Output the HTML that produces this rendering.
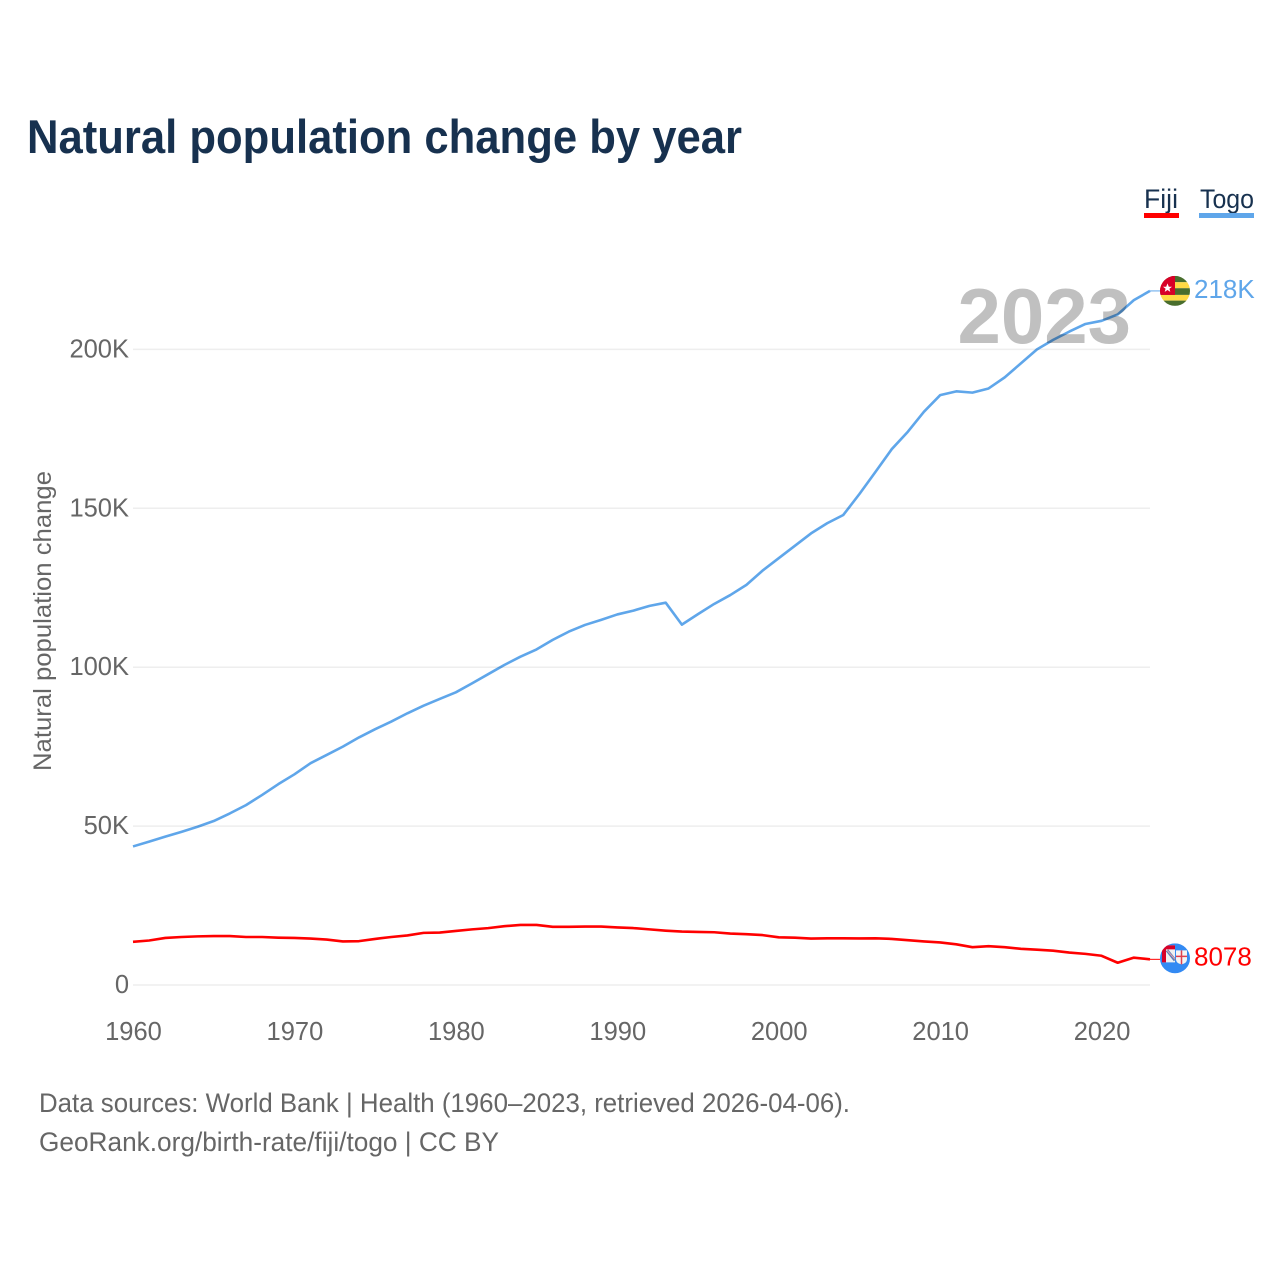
<!DOCTYPE html>
<html lang="en">
<head>
<meta charset="utf-8">
<title>Natural population change by year</title>
<style>
html,body{margin:0;padding:0;background:#fff;}
svg{display:block;font-family:"Liberation Sans",sans-serif;}
</style>
</head>
<body>
<svg id="chart" width="1280" height="1280" viewBox="0 0 1280 1280" xmlns="http://www.w3.org/2000/svg">
  <rect width="1280" height="1280" fill="#ffffff"/>
  <text x="27" y="153" font-size="47" font-weight="700" fill="#17314f" textLength="715" lengthAdjust="spacingAndGlyphs">Natural population change by year</text>

  <g>
    <g>
      <text x="1144" y="208" font-size="27" fill="#17314f" textLength="34" lengthAdjust="spacingAndGlyphs">Fiji</text>
      <rect x="1144" y="213" width="35" height="5" fill="#ff0000"/>
    </g>
    <g>
      <text x="1200" y="208" font-size="27" fill="#17314f" textLength="54" lengthAdjust="spacingAndGlyphs">Togo</text>
      <rect x="1199" y="213" width="55" height="5" fill="#5fa6ea"/>
    </g>
  </g>

  <g id="grid"></g>
  <g id="yTicks"></g>
  <g id="xTicks"></g>
  <text transform="translate(51 621) rotate(-90)" text-anchor="middle" font-size="25" fill="#666666" textLength="300" lengthAdjust="spacingAndGlyphs">Natural population change</text>
  <text x="1131" y="343" text-anchor="end" font-size="78" font-weight="700" fill="#c0c0c0">2023</text>
  <g id="series" style="mix-blend-mode:multiply"></g>

  <defs>
    <clipPath id="flagClip"><circle cx="0" cy="0" r="15"/></clipPath>
  </defs>

  <g id="flagTogo">
    <g clip-path="url(#flagClip)">
      <rect x="-15" y="-15" width="30" height="6.3" fill="#496e2d"/>
      <rect x="-15" y="-8.7" width="30" height="6" fill="#ffda44"/>
      <rect x="-15" y="-2.7" width="30" height="6.7" fill="#496e2d"/>
      <rect x="-15" y="4" width="30" height="5.7" fill="#ffda44"/>
      <rect x="-15" y="9.7" width="30" height="5.3" fill="#496e2d"/>
      <rect x="-15" y="-15" width="15" height="19" fill="#d80027"/>
      <polygon points="-7.5,-7.5 -6.2,-4.2 -3,-4.2 -5.6,-2.2 -4.7,1 -7.5,-0.9 -10.3,1 -9.4,-2.2 -12,-4.2 -8.8,-4.2" fill="#ffffff"/>
    </g>
  </g>

  <g id="flagFiji">
    <g clip-path="url(#flagClip)">
      <rect x="-15" y="-15" width="30" height="30" fill="#338af3"/>
      <path d="M-13,-13 H0 V4 H-13 Z" fill="#f0f0f0"/>
      <path d="M-13,-13 H0 V-9 H-9 V4 H-13 Z" fill="#d80027"/>
      <path d="M-8,-8 L0,2" stroke="#5a7fb8" stroke-width="3" fill="none"/>
      <path d="M-8,-8 L0,1" stroke="#e8a0a8" stroke-width="1" fill="none"/>
      <path d="M1,-8 H12 V1 Q12,5 6.5,6 Q1,5 1,1 Z" fill="#f4f4f4"/>
      <path d="M6.5,-8 V6 M1,-2 H12" stroke="#e0404f" stroke-width="1.5" fill="none"/>
    </g>
  </g>

  <text id="labelTogo" x="1194" font-size="26" fill="#5fa6ea">218K</text>
  <text id="labelFiji" x="1194" font-size="26" fill="#ff0000">8078</text>

  <g>
    <text x="39" y="1112" font-size="27" fill="#666666" textLength="811" lengthAdjust="spacingAndGlyphs">Data sources: World Bank | Health (1960–2023, retrieved 2026-04-06).</text>
    <text x="39" y="1151" font-size="27" fill="#666666" textLength="460" lengthAdjust="spacingAndGlyphs">GeoRank.org/birth-rate/fiji/togo | CC BY</text>
  </g>
</svg>

<script>
const startYear = 1960;
const xTickYears = [1960, 1970, 1980, 1990, 2000, 2010, 2020];
const yTickValues = [0, 50, 100, 150, 200];
const yTickLabels = ["0", "50K", "100K", "150K", "200K"];
const togoValues = [43.6, 45.1, 46.7, 48.2, 49.8, 51.6, 54.0, 56.6, 59.8, 63.2,
  66.3, 69.8, 72.4, 75.0, 77.9, 80.5, 82.9, 85.5, 87.9, 90.0,
  92.1, 94.9, 97.8, 100.7, 103.3, 105.6, 108.6, 111.2, 113.3, 114.9,
  116.6, 117.8, 119.3, 120.3, 113.4, 116.7, 119.9, 122.7, 125.9, 130.4,
  134.3, 138.2, 142.1, 145.3, 147.9, 154.5, 161.5, 168.6, 174.1, 180.4,
  185.6, 186.8, 186.4, 187.7, 191.2, 195.6, 200.0, 203.0, 205.6, 208.0,
  209.0, 211.0, 215.5, 218.4];
const fijiValues = [13.6, 14.0, 14.8, 15.1, 15.3, 15.4, 15.4, 15.1, 15.1, 14.9,
  14.8, 14.6, 14.3, 13.7, 13.8, 14.5, 15.1, 15.6, 16.4, 16.5,
  17.0, 17.5, 17.9, 18.5, 18.9, 18.9, 18.3, 18.3, 18.4, 18.4,
  18.1, 17.9, 17.5, 17.1, 16.8, 16.7, 16.6, 16.2, 16.0, 15.7,
  15.0, 14.9, 14.6, 14.7, 14.7, 14.65, 14.7, 14.5, 14.1, 13.7,
  13.4, 12.8, 11.9, 12.2, 11.9, 11.4, 11.1, 10.8, 10.2, 9.8,
  9.2, 7.0, 8.6, 8.078];

const NS = "http://www.w3.org/2000/svg";
function xScale(year) { return 133 + (year - 1960) * (1017 / 63); }
function yScale(value) { return 985 - value * 3.178; }
function make(tag, attrs) {
  const el = document.createElementNS(NS, tag);
  for (const k in attrs) el.setAttribute(k, attrs[k]);
  return el;
}

const gridGroup = document.getElementById("grid");
const yTickGroup = document.getElementById("yTicks");
yTickValues.forEach(function (v, i) {
  const line = make("line", { x1: 133, x2: 1150, y1: yScale(v), y2: yScale(v), stroke: "#eeeeee", "stroke-width": 1.5 });
  
  
  gridGroup.appendChild(line);
  const label = make("text", { x: 129, y: yScale(v) + 8, "text-anchor": "end", "font-size": 25.5, fill: "#666666" });
  
  
  label.textContent = yTickLabels[i];
  yTickGroup.appendChild(label);
});

const xTickGroup = document.getElementById("xTicks");
xTickYears.forEach(function (year) {
  const label = make("text", { x: xScale(year) + 0.5, y: 1040, "text-anchor": "middle", "font-size": 25.5, fill: "#666666" });
  
  
  label.textContent = String(year);
  xTickGroup.appendChild(label);
});

function pathPoints(values) {
  return values.map(function (v, i) { return xScale(startYear + i).toFixed(2) + "," + yScale(v).toFixed(2); }).join(" ");
}

const seriesGroup = document.getElementById("series");

const fijiLine = make("polyline", { points: pathPoints(fijiValues), fill: "none", stroke: "#ff0000", "stroke-width": 2.6, "stroke-linejoin": "round" });


seriesGroup.appendChild(fijiLine);

const togoLine = make("polyline", { points: pathPoints(togoValues), fill: "none", stroke: "#5fa6ea", "stroke-width": 2.6, "stroke-linejoin": "round" });


seriesGroup.appendChild(togoLine);

const lastX = xScale(startYear + togoValues.length - 1);
const togoEndY = yScale(togoValues[togoValues.length - 1]);
const fijiEndY = yScale(fijiValues[fijiValues.length - 1]);

const togoConnector = make("line", { x1: lastX, x2: 1160, y1: togoEndY, y2: togoEndY, stroke: "#5fa6ea", "stroke-width": 1 });


seriesGroup.appendChild(togoConnector);

const fijiConnector = make("line", { x1: lastX, x2: 1160, y1: fijiEndY, y2: fijiEndY, stroke: "#ff0000", "stroke-width": 1 });


seriesGroup.appendChild(fijiConnector);

document.getElementById("flagTogo").setAttribute("transform", "translate(1175 " + togoEndY + ")");
document.getElementById("flagFiji").setAttribute("transform", "translate(1175 " + (fijiEndY - 1) + ")");
document.getElementById("labelTogo").setAttribute("y", togoEndY + 7);
document.getElementById("labelFiji").setAttribute("y", fijiEndY + 6);
</script>
</body>
</html>
